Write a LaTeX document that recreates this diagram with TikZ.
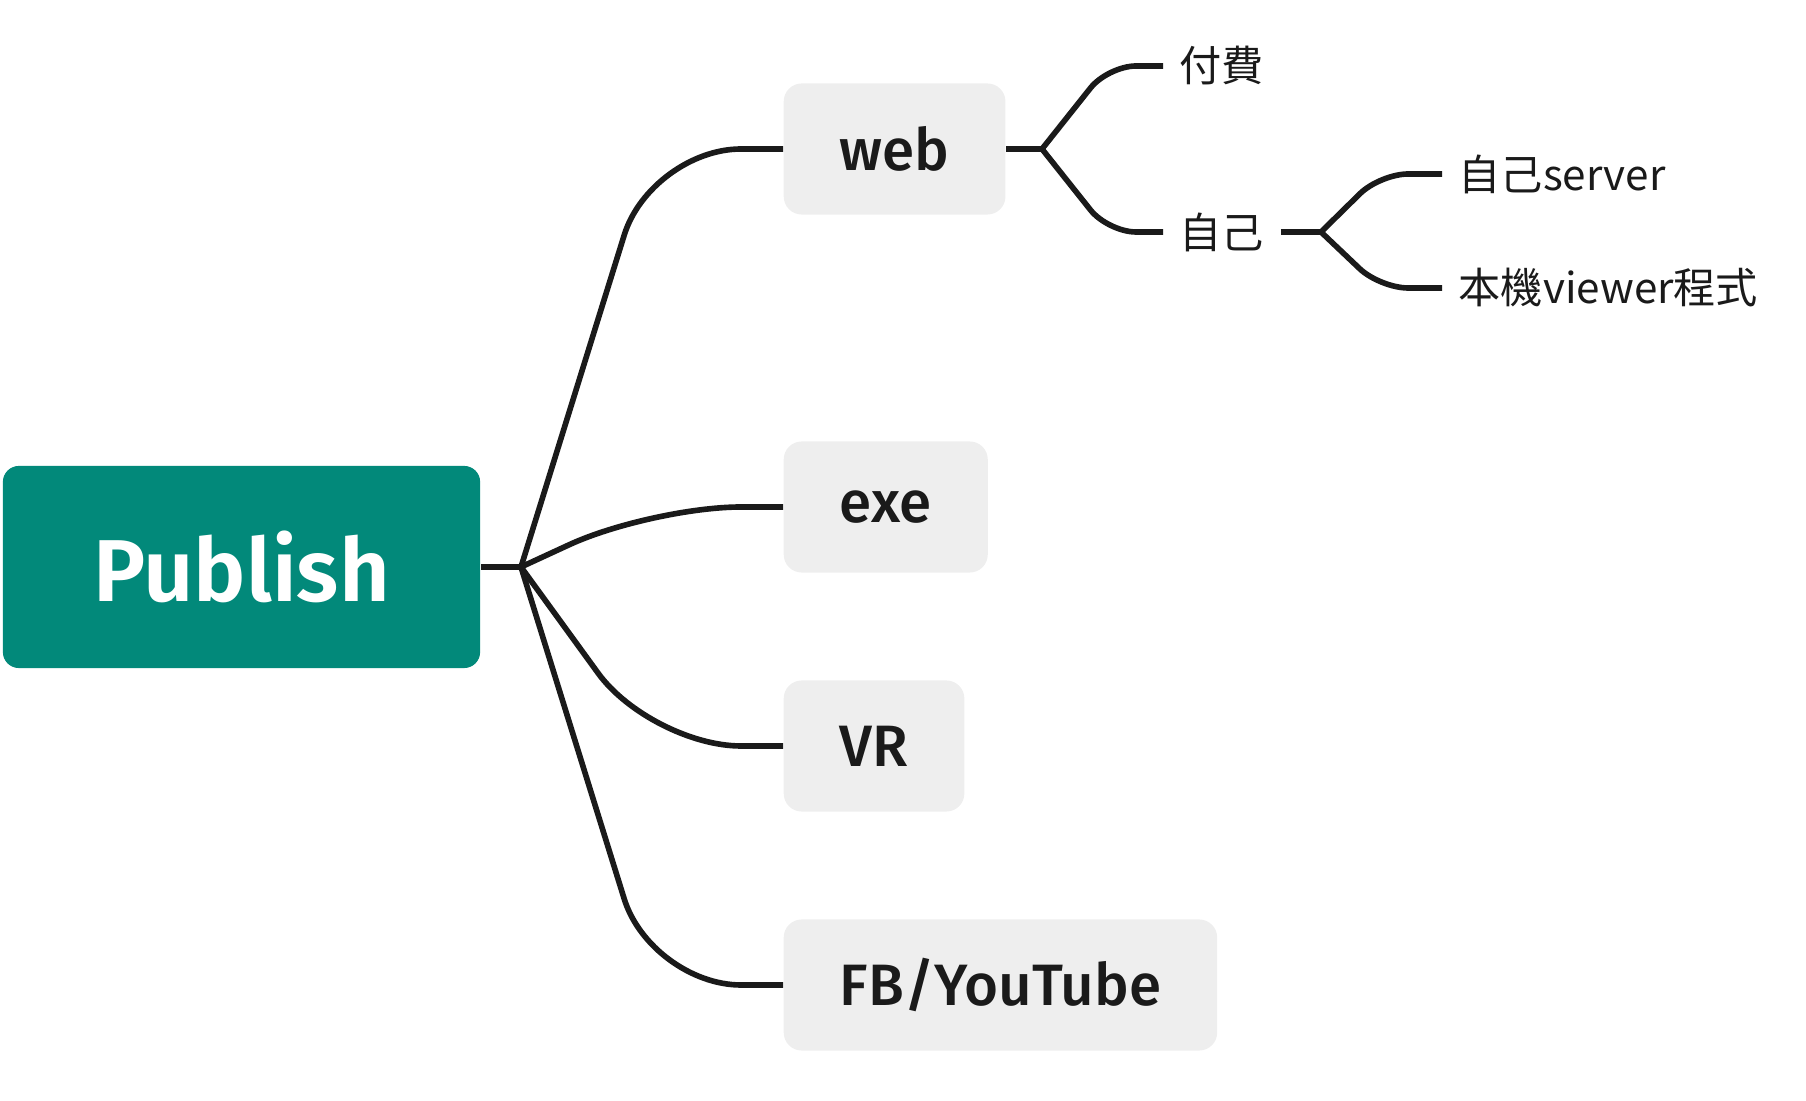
\documentclass[tikz,border=0pt]{standalone}
\usepackage{fontspec}
\setmainfont{Fira Sans}
\newfontfamily\rootfont{Fira Sans SemiBold}
\newfontfamily\branchfont{Fira Sans Medium}
\newfontfamily\cjk{Noto Sans CJK TC}
\definecolor{rootteal}{RGB}{2,137,122}
\definecolor{boxgray}{RGB}{238,238,238}
\definecolor{inkline}{RGB}{26,26,26}

\begin{document}
\begin{tikzpicture}[
  x=0.01cm, y=-0.01cm,
  root/.style={rectangle, rounded corners=0.16cm, fill=rootteal, text=white,
    minimum width=4.77cm, minimum height=2.02cm,
    font=\rootfont\fontsize{25}{30}\selectfont},
  branch/.style={rectangle, rounded corners=0.18cm, fill=boxgray, text=inkline,
    anchor=west, inner xsep=0.56cm, minimum height=1.31cm,
    font=\branchfont\fontsize{16.6}{20}\selectfont},
  leaf/.style={anchor=west, inner xsep=0.16cm, text=inkline,
    font=\cjk\fontsize{12}{15}\selectfont},
  link/.style={draw=inkline, line width=1.6pt, rounded corners=0.9cm},
  sublink/.style={draw=inkline, line width=1.6pt, rounded corners=0.28cm},
]
\useasboundingbox (0,0) rectangle (1806,1101);

% Root
\node[root] (pub) at (241.5,567) {Publish};
\coordinate (jroot) at (521,567);

% First level
\node[branch] (web) at (783,149) {web};
\node[branch] (exe) at (783,507) {exe};
\node[branch] (vr) at (783,746) {VR};
\node[branch] (fbyt) at (783,985) {FB/YouTube};

% Second and third level
\node[leaf] (paid) at (1163,66) {付費};
\node[leaf] (self) at (1163,232) {自己};
\node[leaf] (ownsrv) at (1442,174) {自己server};
\node[leaf] (viewer) at (1442,288) {本機viewer程式};
\coordinate (jweb) at (1042,149);
\coordinate (jself) at (1321,232);

% Links from root
\draw[link] (pub.east) -- (jroot);
\draw[link] (jroot) -- (651,149) -- (web.west);
\draw[link] (jroot) -- (651,507) -- (exe.west);
\draw[link] (jroot) -- (651,746) -- (vr.west);
\draw[link] (jroot) -- (651,985) -- (fbyt.west);

% Links under web
\draw[link] (web.east) -- (jweb);
\draw[sublink] (jweb) -- (1108,66) -- (paid.west);
\draw[sublink] (jweb) -- (1108,232) -- (self.west);
\draw[link] (self.east) -- (jself);
\draw[sublink] (jself) -- (1380,174) -- (ownsrv.west);
\draw[sublink] (jself) -- (1380,288) -- (viewer.west);

\end{tikzpicture}
\end{document}
